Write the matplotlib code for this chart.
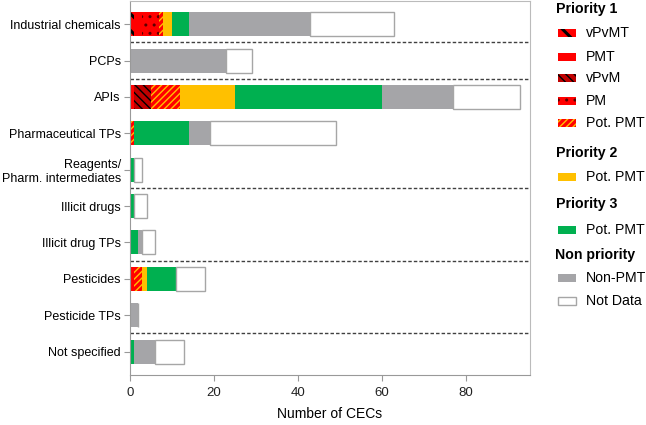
import matplotlib.pyplot as plt
from matplotlib.patches import Rectangle
import numpy as np

plt.rcParams['font.family'] = ['Liberation Sans', 'DejaVu Sans']

categories = ['Industrial chemicals', 'PCPs', 'APIs', 'Pharmaceutical TPs',
              'Reagents/\nPharm. intermediates', 'Illicit drugs', 'Illicit drug TPs',
              'Pesticides', 'Pesticide TPs', 'Not specified']

# counts per category for each class
vpvmt   = [1, 0, 0, 0, 0, 0, 0, 0, 0, 0]
pmt     = [2, 0, 1, 0, 0, 0, 0, 1, 0, 0]
vpvm    = [0, 0, 4, 0, 0, 0, 0, 0, 0, 0]
pm      = [4, 0, 0, 0, 0, 0, 0, 0, 0, 0]
pot_p1  = [1, 0, 7, 1, 0, 0, 0, 2, 0, 0]
pot_p2  = [2, 0, 13, 0, 0, 0, 0, 1, 0, 0]
pot_p3  = [4, 0, 35, 13, 1, 1, 2, 7, 0, 1]
non_pmt = [29, 23, 17, 5, 0, 0, 1, 0, 2, 5]
no_data = [20, 6, 16, 30, 2, 3, 3, 7, 0, 7]

series = [vpvmt, pmt, vpvm, pm, pot_p1, pot_p2, pot_p3, non_pmt, no_data]
labels = ['vPvMT', 'PMT', 'vPvM', 'PM', 'Pot. PMT', 'Pot. PMT', 'Pot. PMT', 'Non-PMT', 'Not Data']

# (facecolor, hatch colour, hatch, hatch linewidth)
styles = [
    ('#FF0000', 'black', '\\\\', 2.2),
    ('#FF0000', None, None, 0),
    ('#C00000', 'black', '\\\\\\\\', 1.0),
    ('#FF0000', '#5A0000', '..', 1.0),
    ('#FF0000', '#FFC000', '/////', 1.0),
    ('#FFC000', None, None, 0),
    ('#00B050', None, None, 0),
    ('#A5A5A8', None, None, 0),
    ('white', None, None, 0),
]


def make_patch_kw(fc, hc, hatch):
    if hatch:
        return dict(facecolor=fc, edgecolor=hc, hatch=hatch, linewidth=0)
    if fc == 'white':
        return dict(facecolor=fc, edgecolor='#A6A6A6', linewidth=1.0)
    return dict(facecolor=fc, edgecolor='none')


fig = plt.figure(figsize=(6.46, 4.25), dpi=100)
ax = fig.add_axes([0.201, 0.118, 0.619, 0.879])

y = np.arange(len(categories))
left = np.zeros(len(categories))
bh = 0.66
for vals, (fc, hc, hatch, hlw) in zip(series, styles):
    vals = np.array(vals, dtype=float)
    with plt.rc_context({'hatch.linewidth': hlw if hatch else 1.0}):
        ax.barh(y, vals, left=left, height=bh, **make_patch_kw(fc, hc, hatch))
    left += vals

# group separators
for yy in [0.5, 1.5, 4.5, 6.5, 8.5]:
    ax.axhline(yy, color='#404040', lw=1.0, ls=(0, (2.5, 1.5)))

ax.set_ylim(9.64, -0.63)
ax.set_xlim(0, 95.2)
ax.set_yticks(y)
ax.set_yticklabels(categories, fontsize=9.0)
ax.set_xticks([0, 20, 40, 60, 80])
ax.tick_params(axis='x', labelsize=9.5, colors='#222222', color='#999999', length=4, pad=5)
ax.tick_params(axis='y', color='#999999', length=4, pad=2.5)
for s in ax.spines.values():
    s.set_color('#BBBBBB')
ax.spines['left'].set_color('#999999')
ax.spines['bottom'].set_color('#999999')
ax.set_xlabel('Number of CECs', fontsize=10)
ax.xaxis.set_label_coords(0.5, -0.086)

# legend drawn in its own axes (pixel coordinates)
lax = fig.add_axes([0, 0, 1, 1])
lax.set_xlim(0, 646)
lax.set_ylim(425, 0)
lax.axis('off')

headers = [('Priority 1', 556, 9), ('Priority 2', 556, 153),
           ('Priority 3', 556, 204), ('Non priority', 555, 255)]
for txt, hx, hy in headers:
    lax.text(hx, hy, txt, fontsize=10.2, fontweight='bold', va='center', ha='left')

entry_y = [33, 57, 78, 101, 123, 177, 230, 278, 301]
for (fc, hc, hatch, hlw), lab, ey in zip(styles, labels, entry_y):
    with plt.rc_context({'hatch.linewidth': hlw if hatch else 1.0}):
        r = Rectangle((558, ey - 3.7), 18, 7.4, **make_patch_kw(fc, hc, hatch))
    lax.add_patch(r)
    lax.text(586, ey, lab, fontsize=10.2, va='center', ha='left')

fig.savefig('out.png', dpi=100, facecolor='white')
